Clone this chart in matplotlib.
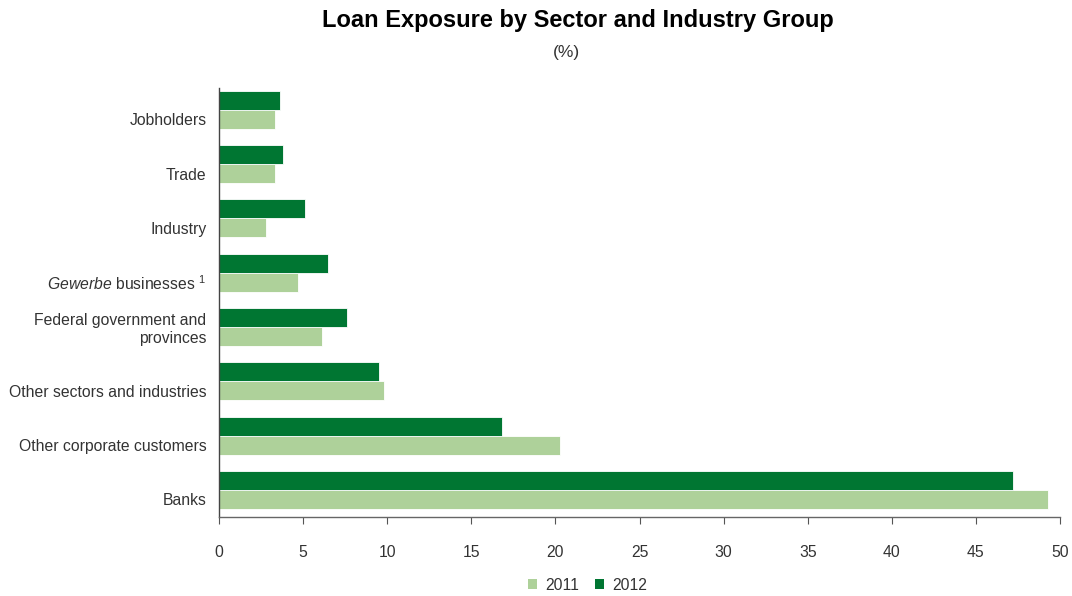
import matplotlib
matplotlib.use("Agg")
import matplotlib.pyplot as plt
import numpy as np
from matplotlib.patches import Patch

plt.rcParams['font.family'] = ['Liberation Sans', 'DejaVu Sans']
plt.rcParams['mathtext.fontset'] = 'custom'
plt.rcParams['mathtext.rm'] = 'Liberation Sans'
plt.rcParams['mathtext.it'] = 'Liberation Sans:italic'

# sectors from bottom to top
sectors = ["Banks", "Other corporate customers", "Other sectors and industries",
           "Federal government and\nprovinces", r"$\it{Gewerbe}$ businesses $^{1}$",
           "Industry", "Trade", "Jobholders"]
share_2011 = [49.3, 20.3, 9.8, 6.1, 4.7, 2.8, 3.3, 3.3]
share_2012 = [47.2, 16.8, 9.5, 7.6, 6.5, 5.1, 3.8, 3.6]
years = ["2011", "2012"]

light = "#AED19A"
dark = "#007632"
txt = "#333333"

fig = plt.figure(figsize=(10.72, 5.96), dpi=100)
ax = fig.add_axes([219 / 1072, 1 - 517 / 596, (1060 - 219) / 1072, (517 - 88) / 596])

y = np.arange(len(sectors))
h = 0.35
ax.barh(y - h / 2, share_2011, height=h, color=light, edgecolor="white", linewidth=0.6)
ax.barh(y + h / 2, share_2012, height=h, color=dark, edgecolor="white", linewidth=0.6)

# one-line labels sit level with the lower bar, two-line labels centre on the pair
label_y = [yy if "\n" in s else yy - h / 2 for yy, s in zip(y, sectors)]

ax.set_xlim(0, 50)
ax.set_ylim(-0.5, 7.4)
ax.set_xticks(np.arange(0, 51, 5))
ax.set_yticks(label_y)
ax.set_yticklabels(sectors, fontsize=11.3, color=txt, ha="right", linespacing=1.2)
ax.tick_params(axis="y", length=0, pad=9)
ax.tick_params(axis="x", length=5, width=0.8, color="#555555", pad=15, labelsize=11.3, labelcolor=txt)

for s in ["top", "right"]:
    ax.spines[s].set_visible(False)
ax.spines["left"].set_color("#444444")
ax.spines["bottom"].set_color("#666666")
ax.spines["left"].set_linewidth(1.0)
ax.spines["bottom"].set_linewidth(1.0)

fig.text(0.539, 0.965, "Loan Exposure by Sector and Industry Group", ha="center", va="center",
         fontsize=17, fontweight="bold", color="black")
fig.text(0.528, 0.912, "(%)", ha="center", va="center", fontsize=12.5, color=txt)

handles = [Patch(facecolor=light, edgecolor="none"), Patch(facecolor=dark, edgecolor="none")]
fig.legend(handles, years, loc="center", bbox_to_anchor=(0.548, 0.018), ncol=2, frameon=False,
           handlelength=0.6, handleheight=0.6, handletextpad=0.5, columnspacing=1.0,
           fontsize=11.3, labelcolor=txt)

fig.savefig("out.png", dpi=100)
